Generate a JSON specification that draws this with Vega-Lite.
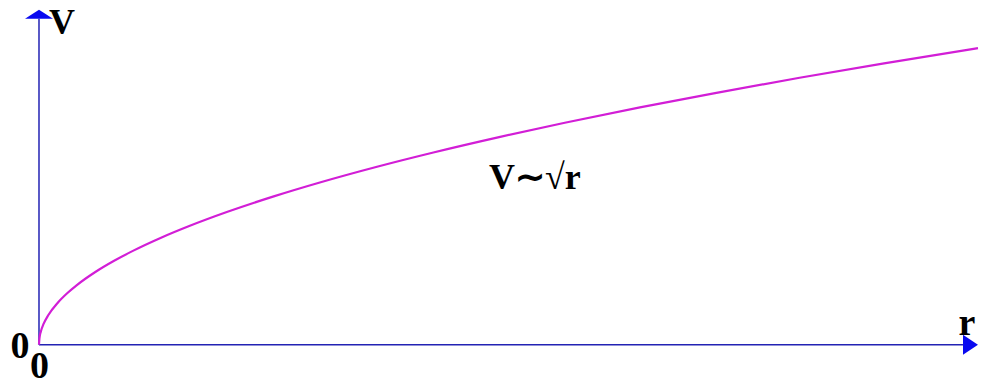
{
  "$schema": "https://vega.github.io/schema/vega-lite/v6.json",
  "width": 990,
  "height": 387,
  "padding": 0,
  "autosize": {"type": "fit", "contains": "padding"},
  "background": "white",
  "config": {"view": {"stroke": null}},
  "datasets": {
    "curve": [
      {"r": 0, "V": 0}, {"r": 0.05, "V": 0.224}, {"r": 0.2, "V": 0.447}, {"r": 0.5, "V": 0.707},
      {"r": 1, "V": 1}, {"r": 2, "V": 1.414}, {"r": 3, "V": 1.732}, {"r": 4, "V": 2},
      {"r": 6, "V": 2.449}, {"r": 8, "V": 2.828}, {"r": 10, "V": 3.162}, {"r": 13, "V": 3.606},
      {"r": 16, "V": 4}, {"r": 20, "V": 4.472}, {"r": 25, "V": 5}, {"r": 30, "V": 5.477},
      {"r": 36, "V": 6}, {"r": 42, "V": 6.481}, {"r": 49, "V": 7}, {"r": 56, "V": 7.483},
      {"r": 64, "V": 8}, {"r": 72, "V": 8.485}, {"r": 81, "V": 9}, {"r": 90, "V": 9.487},
      {"r": 100, "V": 10}
    ],
    "axes": [
      {"x1": 0, "y1": 0, "x2": 0, "y2": 10.99},
      {"x1": 0, "y1": 0, "x2": 98.4, "y2": 0}
    ],
    "arrows": [
      {"axis": "V", "r": 0, "V": 11.14},
      {"axis": "r", "r": 99.2, "V": 0}
    ],
    "labels": [
      {"text": "V", "r": 1.065, "V": 10.46, "size": "big", "align": "left"},
      {"text": "r", "r": 98.83, "V": 0.331, "size": "big", "align": "center"},
      {"text": "0", "r": -2.02, "V": -0.464, "size": "big", "align": "center"},
      {"text": "0", "r": 0.05, "V": -1.126, "size": "big", "align": "center"},
      {"text": "V∼√r", "r": 52.82, "V": 5.265, "size": "mid", "align": "center"}
    ]
  },
  "layer": [
    {
      "data": {"name": "axes"},
      "mark": {"type": "rule", "color": "#2323b4", "strokeWidth": 1.5},
      "encoding": {
        "x": {"field": "x1", "type": "quantitative", "scale": {"domain": [-4.153, 101.28], "nice": false, "zero": false}, "axis": null},
        "y": {"field": "y1", "type": "quantitative", "scale": {"domain": [-1.192, 11.623], "nice": false, "zero": false}, "axis": null},
        "x2": {"field": "x2"},
        "y2": {"field": "y2"}
      }
    },
    {
      "data": {"name": "curve"},
      "mark": {"type": "line", "color": "#d21ed6", "strokeWidth": 2.2, "interpolate": "monotone"},
      "encoding": {
        "x": {"field": "r", "type": "quantitative", "axis": null},
        "y": {"field": "V", "type": "quantitative", "axis": null}
      }
    },
    {
      "data": {"name": "arrows"},
      "transform": [{"filter": "datum.axis === 'V'"}],
      "mark": {"type": "point", "filled": true, "opacity": 1, "color": "#0a0af0", "strokeWidth": 0, "size": 784, "shape": "M0,-0.32L1,0.32L-1,0.32Z"},
      "encoding": {
        "x": {"field": "r", "type": "quantitative", "axis": null},
        "y": {"field": "V", "type": "quantitative", "axis": null}
      }
    },
    {
      "data": {"name": "arrows"},
      "transform": [{"filter": "datum.axis === 'r'"}],
      "mark": {"type": "point", "filled": true, "opacity": 1, "color": "#0a0af0", "strokeWidth": 0, "size": 400, "shape": "M-0.75,-1L0.75,0L-0.75,1Z"},
      "encoding": {
        "x": {"field": "r", "type": "quantitative", "axis": null},
        "y": {"field": "V", "type": "quantitative", "axis": null}
      }
    },
    {
      "data": {"name": "labels"},
      "transform": [{"filter": "datum.size === 'big' && datum.align === 'left'"}],
      "mark": {"type": "text", "font": "Liberation Serif", "fontWeight": "bold", "fontSize": 36, "color": "black", "align": "left", "baseline": "alphabetic"},
      "encoding": {
        "x": {"field": "r", "type": "quantitative", "axis": null},
        "y": {"field": "V", "type": "quantitative", "axis": null},
        "text": {"field": "text"}
      }
    },
    {
      "data": {"name": "labels"},
      "transform": [{"filter": "datum.size === 'big' && datum.align === 'center'"}],
      "mark": {"type": "text", "font": "Liberation Serif", "fontWeight": "bold", "fontSize": 38, "color": "black", "align": "center", "baseline": "alphabetic"},
      "encoding": {
        "x": {"field": "r", "type": "quantitative", "axis": null},
        "y": {"field": "V", "type": "quantitative", "axis": null},
        "text": {"field": "text"}
      }
    },
    {
      "data": {"name": "labels"},
      "transform": [{"filter": "datum.size === 'mid'"}],
      "mark": {"type": "text", "font": "Liberation Serif", "fontWeight": "bold", "fontSize": 36, "color": "black", "align": "center", "baseline": "alphabetic"},
      "encoding": {
        "x": {"field": "r", "type": "quantitative", "axis": null},
        "y": {"field": "V", "type": "quantitative", "axis": null},
        "text": {"field": "text"}
      }
    }
  ]
}
